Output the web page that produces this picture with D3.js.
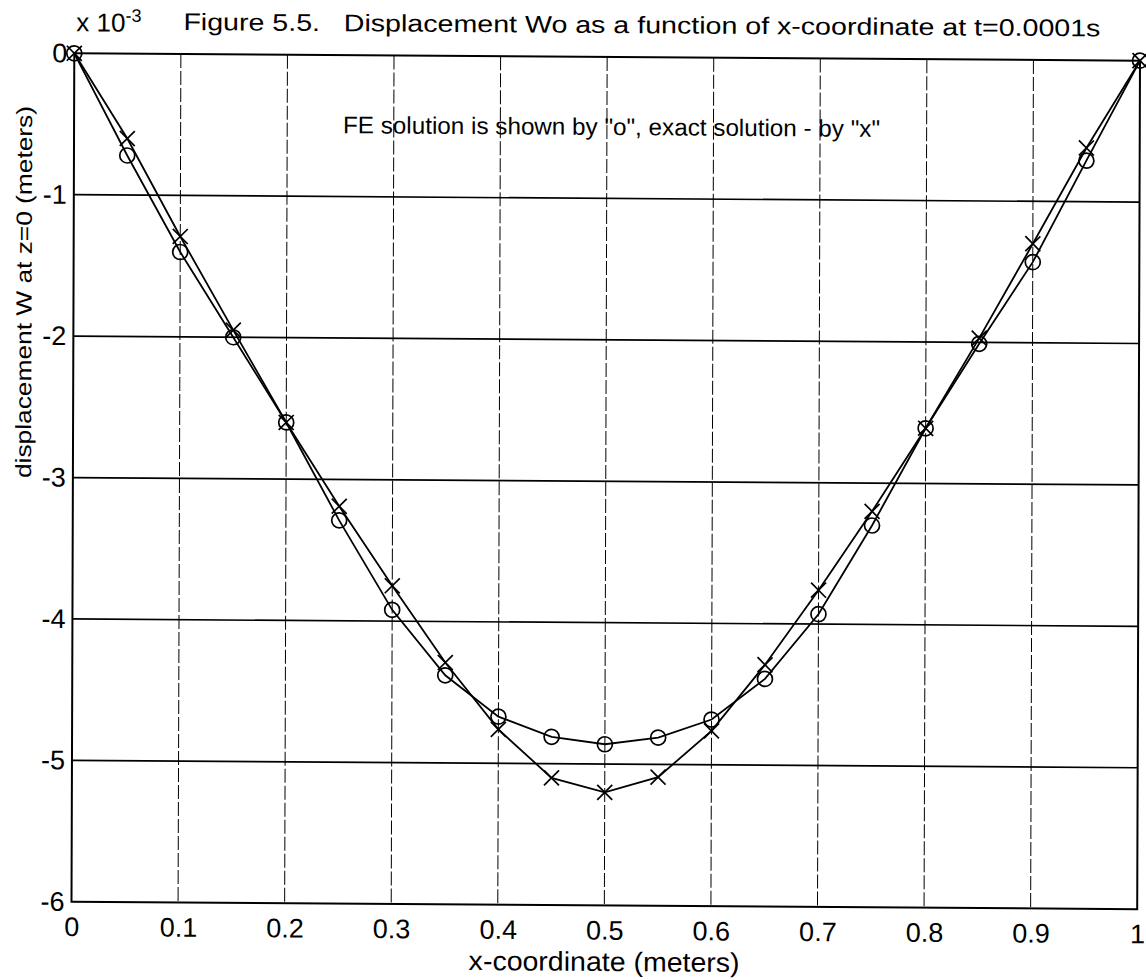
<!DOCTYPE html>
<html><head><meta charset="utf-8">
<script src="https://cdn.jsdelivr.net/npm/d3@7"></script>
<style>
html,body{margin:0;padding:0;background:#fff;}
text{font-family:"Liberation Sans",Arial,Helvetica,sans-serif;fill:#000;}
</style></head>
<body>
<svg id="chart" width="1146" height="980"></svg>
<script>
// Data (W in units of 1e-3 m)
const xCoords = [0,0.05,0.10,0.15,0.20,0.25,0.30,0.35,0.40,0.45,0.50,0.55,0.60,0.65,0.70,0.75,0.80,0.85,0.90,0.95,1.00];
const exactW  = [0,-0.60,-1.29,-1.95,-2.60,-3.19,-3.75,-4.29,-4.76,-5.10,-5.20,-5.09,-4.76,-4.29,-3.76,-3.20,-2.61,-1.97,-1.30,-0.62,0];
const feW     = [0,-0.72,-1.40,-2.00,-2.60,-3.29,-3.92,-4.38,-4.67,-4.81,-4.86,-4.81,-4.68,-4.39,-3.93,-3.30,-2.61,-2.01,-1.43,-0.71,0];
const xTicks = [0,0.1,0.2,0.3,0.4,0.5,0.6,0.7,0.8,0.9,1];
const xTickLabels = ["0","0.1","0.2","0.3","0.4","0.5","0.6","0.7","0.8","0.9","1"];
const yTicks = [0,-1,-2,-3,-4,-5,-6];
const yTickLabels = ["0","-1","-2","-3","-4","-5","-6"];
const titleText = "Figure 5.5.   Displacement Wo as a function of x-coordinate at t=0.0001s";
const noteText = "FE solution is shown by \"o\", exact solution - by \"x\"";
const xLabelText = "x-coordinate (meters)";
const yLabelText = "displacement W at z=0 (meters)";

const W = 1065.7, H = 848.5;
const svg = d3.select("#chart");
// slight skew of the scanned page
const g = svg.append("g").attr("transform", `matrix(1,0.0069,-0.0033,1,74.3,53.3)`);

const x = d3.scaleLinear().domain([0,1]).range([0,W]);
const y = d3.scaleLinear().domain([-6,0]).range([H,0]);

// grid
g.append("g").selectAll("line").data(xTicks.slice(1,-1)).join("line")
  .attr("x1", d=>x(d)).attr("x2", d=>x(d)).attr("y1",0).attr("y2",H)
  .attr("stroke","#000").attr("stroke-width",1).attr("stroke-dasharray","14,3");
g.append("g").selectAll("line").data(yTicks.slice(1,-1)).join("line")
  .attr("x1",0).attr("x2",W).attr("y1", d=>y(d)).attr("y2", d=>y(d))
  .attr("stroke","#000").attr("stroke-width",1.7);

// box
g.append("rect").attr("x",0).attr("y",0).attr("width",W).attr("height",H)
  .attr("fill","none").attr("stroke","#000").attr("stroke-width",2);

// axes tick labels via d3 axes
const xAxis = d3.axisBottom(x).tickValues(xTicks).tickFormat((d,i)=>xTickLabels[i]).tickSize(0).tickPadding(15);
const xg = g.append("g").attr("transform",`translate(0,${H})`).call(xAxis);
xg.select(".domain").remove();
xg.selectAll("text").attr("font-size",27).attr("font-family","Liberation Sans, Arial, sans-serif").attr("fill","#000");

const yAxis = d3.axisLeft(y).tickValues(yTicks).tickFormat((d,i)=>yTickLabels[i]).tickSize(0).tickPadding(7);
const yg = g.append("g").call(yAxis);
yg.select(".domain").remove();
yg.selectAll("text").attr("font-size",27).attr("font-family","Liberation Sans, Arial, sans-serif").attr("fill","#000");

// series lines
const line = d3.line().x(d=>x(d[0])).y(d=>y(d[1]));
const exactPts = xCoords.map((v,i)=>[v,exactW[i]]);
const fePts = xCoords.map((v,i)=>[v,feW[i]]);
g.append("path").attr("d", line(exactPts)).attr("fill","none").attr("stroke","#000").attr("stroke-width",1.8);
g.append("path").attr("d", line(fePts)).attr("fill","none").attr("stroke","#000").attr("stroke-width",1.8);

// markers
g.append("g").selectAll("circle").data(fePts).join("circle")
  .attr("cx", d=>x(d[0])).attr("cy", d=>y(d[1])).attr("r",7.5)
  .attr("fill","none").attr("stroke","#000").attr("stroke-width",1.7);
const m = 7.5;
const xm = g.append("g").selectAll("g").data(exactPts).join("g")
  .attr("transform", d=>`translate(${x(d[0])},${y(d[1])})`);
xm.append("line").attr("x1",-m).attr("y1",-m).attr("x2",m).attr("y2",m).attr("stroke","#000").attr("stroke-width",1.7);
xm.append("line").attr("x1",-m).attr("y1",m).attr("x2",m).attr("y2",-m).attr("stroke","#000").attr("stroke-width",1.7);

// texts
g.append("text").attr("x",109).attr("y",-24).attr("font-size",24)
  .attr("textLength",917).attr("lengthAdjust","spacingAndGlyphs")
  .attr("xml:space","preserve").text(titleText);
const ex = g.append("text").attr("x",2).attr("y",-22).attr("font-size",26);
ex.append("tspan").text("x 10");
ex.append("tspan").attr("dy",-10).attr("font-size",18).text("-3");
g.append("text").attr("x",269).attr("y",78).attr("font-size",24)
  .attr("textLength",537).attr("lengthAdjust","spacingAndGlyphs").text(noteText);
g.append("text").attr("x",W/2).attr("y",914).attr("text-anchor","middle").attr("font-size",27)
  .attr("textLength",271).attr("lengthAdjust","spacingAndGlyphs").text(xLabelText);
g.append("text").attr("transform",`translate(-42,239) rotate(-90)`).attr("text-anchor","middle").attr("font-size",22)
  .attr("textLength",372).attr("lengthAdjust","spacingAndGlyphs").text(yLabelText);
</script>
</body></html>
